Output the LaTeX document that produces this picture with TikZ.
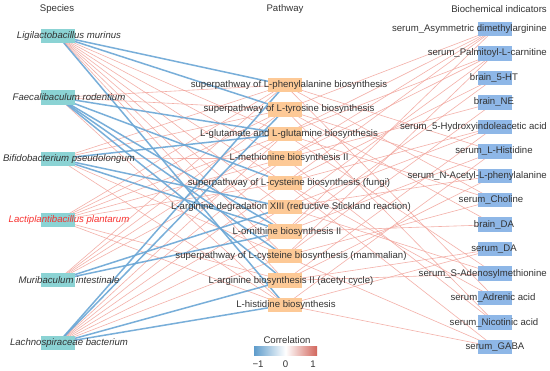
\documentclass[tikz,border=0pt]{standalone}
\usepackage{fontspec}
\setmainfont{Liberation Sans}
\usetikzlibrary{backgrounds}
\definecolor{spc}{HTML}{8BD3D4}
\definecolor{pwc}{HTML}{FDC996}
\definecolor{bic}{HTML}{8EB7E7}
\definecolor{negc}{HTML}{6AA6D5}
\definecolor{posc}{HTML}{F2A39A}
\definecolor{txt}{HTML}{333333}
\definecolor{hlred}{HTML}{F8312F}
\definecolor{cbneg}{HTML}{5E9CCB}
\definecolor{cbpos}{HTML}{D2665C}
\begin{document}
\begin{tikzpicture}[x=1pt,y=-1pt,
  every node/.style={font=\fontsize{9.6}{11}\selectfont, text=txt, inner sep=0pt},
  boxbase/.style={minimum width=34.5pt, minimum height=14.5pt, inner sep=0pt, draw=none},
  spbox/.style={boxbase, fill=spc},
  pwbox/.style={boxbase, fill=pwc},
  bibox/.style={boxbase, fill=bic},
  sptext/.style={font=\fontsize{9.6}{11}\selectfont\itshape},
  negedge/.style={draw=negc, line width=1.5pt, opacity=0.9},
  posedge/.style={draw=posc, line width=0.6pt, opacity=0.85}]
\useasboundingbox (0,0) rectangle (550,371);
% headers
\node (hsp) at (57,9) {Species};
\node (hpw) at (285,9) {Pathway};
\node[anchor=east] (hbi) at (547,9) {Biochemical indicators};
% species boxes
\foreach \i/\y in {1/36,2/97.4,3/158.8,4/220.2,5/280,6/343}
  \node[spbox] (s\i) at (58,\y) {};
% pathway boxes
\foreach \i in {1,...,10}
  \node[pwbox] (p\i) at (285,{85+24.444*(\i-1)}) {};
% indicator boxes
\foreach \i in {1,...,14}
  \node[bibox] (b\i) at (495,{29+24.46*(\i-1)}) {};
% edges
\begin{scope}[on background layer]
\fill[white] (0,0) rectangle (550,371);
\foreach \a/\b in {s1/p3,s1/p4,s1/p5,s1/p6,s1/p7,s1/p8,s1/p9,
  s2/p1,s2/p2,s2/p10,
  s3/p1,s3/p2,s3/p4,s3/p8,s3/p10,
  s4/p1,s4/p2,s4/p3,s4/p4,s4/p5,s4/p9,s4/p10,
  s5/p1,s5/p2,s5/p3,s5/p4,
  s6/p3,s6/p4,s6/p5,s6/p6,s6/p7,s6/p8,
  p1/b6,p1/b8,p1/b12,
  p2/b1,p2/b7,p2/b9,p2/b13,
  p3/b1,p3/b2,p3/b8,p3/b11,
  p4/b1,p4/b2,p4/b4,p4/b13,
  p5/b1,p5/b3,p5/b5,p5/b12,p5/b14,
  p6/b2,p6/b5,p6/b7,p6/b11,
  p7/b1,p7/b3,p7/b6,p7/b9,
  p8/b2,p8/b4,p8/b8,p8/b14,
  p9/b5,p9/b7,p9/b10,p9/b11,
  p10/b6,p10/b10,p10/b14}
  \draw[posedge] (\a.center) -- (\b.center);
\foreach \a/\b in {s1/p1,s1/p2,s1/p10,
  s2/p3,s2/p5,s2/p7,s2/p8,s2/p9,
  s3/p3,s3/p6,s3/p7,
  s5/p6,s5/p7,
  s6/p1,s6/p2,s6/p9,s6/p10}
  \draw[negedge] (\a.center) -- (\b.center);
\end{scope}
% species labels
\node[sptext] (t1) at (69,36) {Ligilactobacillus murinus};
\node[sptext] (t2) at (69,97.4) {Faecalibaculum rodentium};
\node[sptext] (t3) at (69,158.8) {Bifidobacterium pseudolongum};
\node[sptext, text=hlred] (t4) at (69,220.2) {Lactiplantibacillus plantarum};
\node[sptext] (t5) at (69,280) {Muribaculum intestinale};
\node[sptext] (t6) at (69,343) {Lachnospiraceae bacterium};
% pathway labels
\node (q1) at (289,85) {superpathway of L-phenylalanine biosynthesis};
\node (q2) at (289,109.4) {superpathway of L-tyrosine biosynthesis};
\node (q3) at (289,133.9) {L-glutamate and L-glutamine biosynthesis};
\node (q4) at (289,158.3) {L-methionine biosynthesis II};
\node (q5) at (289,182.8) {superpathway of L-cysteine biosynthesis (fungi)};
\node (q6) at (291,207.2) {L-arginine degradation XIII (reductive Stickland reaction)};
\node (q7) at (287,231.7) {L-ornithine biosynthesis II};
\node (q8) at (291,256.1) {superpathway of L-cysteine biosynthesis (mammalian)};
\node (q9) at (291,280.6) {L-arginine biosynthesis II (acetyl cycle)};
\node (q10) at (286,305) {L-histidine biosynthesis};
% indicator labels
\node[anchor=east] (c1) at (547,29) {serum\_Asymmetric dimethylarginine};
\node[anchor=east] (c2) at (547,53.5) {serum\_Palmitoyl-L-carnitine};
\node (c3) at (494,77.9) {brain\_5-HT};
\node (c4) at (494,102.4) {brain\_NE};
\node[anchor=east] (c5) at (547,126.8) {serum\_5-Hydroxyindoleacetic acid};
\node (c6) at (494,151.3) {serum\_L-Histidine};
\node[anchor=east] (c7) at (547,175.8) {serum\_N-Acetyl-L-phenylalanine};
\node (c8) at (491,200.2) {serum\_Choline};
\node (c9) at (494,224.7) {brain\_DA};
\node (c10) at (494,249.1) {serum\_DA};
\node[anchor=east] (c11) at (547,273.6) {serum\_S-Adenosylmethionine};
\node (c12) at (493,298.1) {serum\_Adrenic acid};
\node (c13) at (494,322.5) {serum\_Nicotinic acid};
\node (c14) at (495,347) {serum\_GABA};
% legend
\node (lg) at (287,340) {Correlation};
\shade[left color=cbneg, right color=cbpos, middle color=white] (254,347) rectangle (317,356);
\node (lm) at (258,364) {−1};
\node (l0) at (285.5,364) {0};
\node (l1) at (313,364) {1};
\end{tikzpicture}
\end{document}
